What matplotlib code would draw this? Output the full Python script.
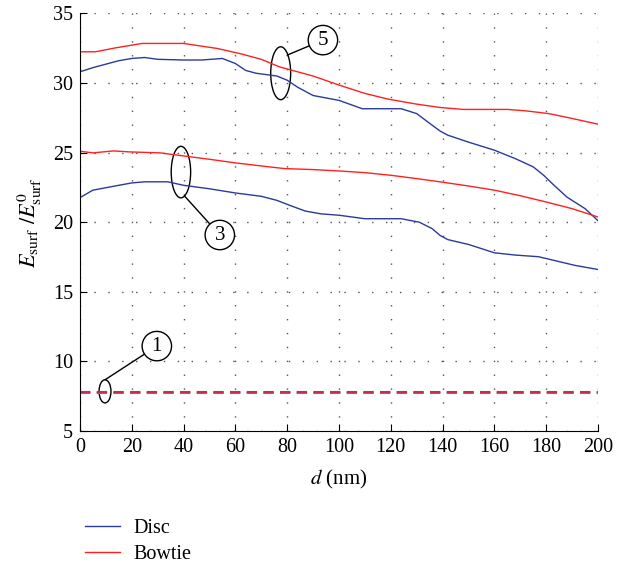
import matplotlib.pyplot as plt
from matplotlib.patches import Ellipse

plt.rcParams['font.family'] = ['Liberation Serif', 'DejaVu Serif']
plt.rcParams['mathtext.fontset'] = 'stix'

# disc, 5 particles
disc5_d = [0, 5, 10, 15, 20, 25, 30, 40, 47, 55, 60, 64, 68, 76, 80, 84, 90, 100, 109, 124,
           130, 135, 139, 142, 150, 160, 168, 175, 179, 183, 188, 195, 200]
disc5_e = [30.8, 31.1, 31.35, 31.6, 31.76, 31.83, 31.7, 31.65, 31.65, 31.76, 31.4, 30.9, 30.7,
           30.5, 30.2, 29.7, 29.1, 28.75, 28.15, 28.15, 27.8, 27.1, 26.55, 26.25, 25.75, 25.17,
           24.57, 23.97, 23.37, 22.65, 21.8, 20.97, 20.1]

# bowtie, 5 particles
bow5_d = [0, 6, 14, 24, 40, 53, 62, 70, 77, 90, 100, 110, 119, 130, 139, 148, 165, 172, 181,
          190, 200]
bow5_e = [32.24, 32.24, 32.53, 32.84, 32.84, 32.48, 32.1, 31.7, 31.16, 30.5, 29.85, 29.25,
          28.84, 28.48, 28.24, 28.1, 28.1, 28.0, 27.8, 27.45, 27.04]

# disc, 3 particles
disc3_d = [0, 5, 13, 20, 25, 34, 40, 50, 60, 70, 76, 82, 87, 93, 100, 110, 124, 131, 136,
           139, 142, 150, 155, 160, 168, 177, 182, 191, 200]
disc3_e = [21.76, 22.3, 22.58, 22.82, 22.9, 22.9, 22.65, 22.4, 22.1, 21.86, 21.57, 21.14,
           20.8, 20.6, 20.5, 20.25, 20.25, 20.0, 19.53, 19.05, 18.75, 18.4, 18.1, 17.8,
           17.64, 17.52, 17.3, 16.9, 16.6]

# bowtie, 3 particles
bow3_d = [0, 5, 13, 19, 31, 40, 50, 60, 70, 79, 90, 100, 110, 120, 130, 139, 150, 160, 170,
          180, 190, 200]
bow3_e = [25.1, 24.98, 25.12, 25.05, 24.98, 24.76, 24.52, 24.26, 24.04, 23.85, 23.78, 23.68,
          23.56, 23.37, 23.13, 22.9, 22.6, 22.3, 21.9, 21.45, 20.97, 20.37]

# single particle (constant)
single_d = [0, 200]
single_disc = [7.70, 7.70]
single_bow = [7.78, 7.78]

blue = '#2b3a9a'
red = '#ff2020'

fig = plt.figure(figsize=(6.39, 5.69), dpi=100)
ax = fig.add_axes([0.125, 0.2425, 0.811, 0.734])

ax.plot(disc5_d, disc5_e, color=blue, lw=1, label='Disc')
ax.plot(bow5_d, bow5_e, color=red, lw=1, label='Bowtie')
ax.plot(disc3_d, disc3_e, color=blue, lw=1)
ax.plot(bow3_d, bow3_e, color=red, lw=1)
ax.plot(single_d, single_disc, color='#6670c0', lw=1.5, ls=(0, (5, 3)))
ax.plot(single_d, single_bow, color='#c03050', lw=1.5, ls=(0, (5, 3)))

ax.set_xlim(0, 200)
ax.set_ylim(5, 35)
ax.set_xticks(range(0, 201, 20))
ax.set_yticks(range(5, 36, 5))
ax.tick_params(direction='in', labelsize=14.5, length=5, pad=5)
ax.spines['top'].set_visible(False)
ax.spines['right'].set_visible(False)
ax.grid(True, ls=(0, (1, 9)), color='#555555', lw=1)

ax.set_xlabel('$d$ (nm)', fontsize=15, labelpad=8)
ax.set_ylabel(r'$E_{\rm surf}\ /E^0_{\rm surf}$', fontsize=16, labelpad=6)

# annotation ellipses and numbered circles
for cx, cy, w, h in [(77.5, 30.7, 7.7, 3.8), (39, 23.6, 7.5, 3.7), (9.7, 7.85, 4.6, 1.66)]:
    ax.add_patch(Ellipse((cx, cy), w, h, fill=False, color='black', lw=1))

for txt, tx, ty, px, py in [('5', 93.8, 33.08, 80.0, 32.0),
                           ('3', 54.0, 19.08, 40.3, 21.9),
                           ('1', 29.7, 11.1, 9.7, 8.68)]:
    ax.annotate(txt, xy=(px, py), xytext=(tx, ty), ha='center', va='center', fontsize=15,
                bbox=dict(boxstyle='circle,pad=0.25', fc='white', ec='black', lw=1),
                arrowprops=dict(arrowstyle='-', color='black', lw=1, shrinkA=0, shrinkB=0))

fig.legend(loc='upper left', bbox_to_anchor=(85 / 639, 1 - 519 / 569), frameon=False,
           fontsize=14.5, handlelength=1.75, handletextpad=0.65, labelspacing=0.35,
           borderpad=0, borderaxespad=0)

fig.savefig('out.png', dpi=100)
